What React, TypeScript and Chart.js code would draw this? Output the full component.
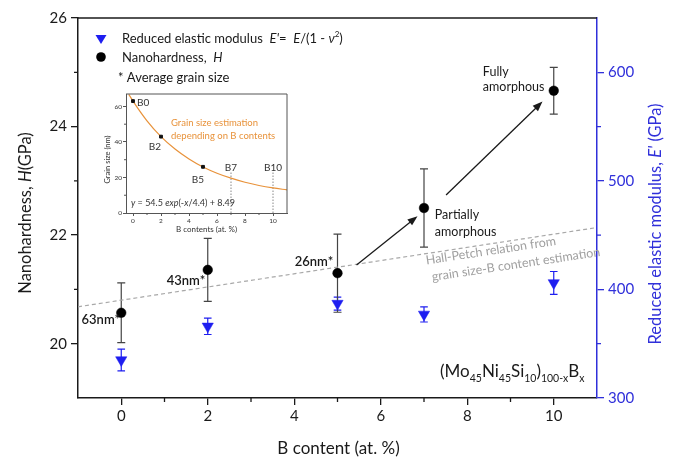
import React, { useEffect, useRef } from 'react';
import { Chart, registerables } from 'chart.js';

Chart.register(...registerables);

// ---------- data ----------
const bContent = [0, 2, 5, 7, 10];
const hardness = [20.57, 21.36, 21.3, 22.5, 24.66];
const hardnessErr = [0.55, 0.58, 0.72, 0.72, 0.43];
const modulus = [335, 366, 387, 377, 406];
const modulusErr = [10, 7.5, 6, 7, 10.5];
const grainLabels = ['63nm*', '43nm*', '26nm*'];
const hallPetchX = [-1, 11];
const hallPetchY = [20.68, 22.14];
const arrowStart = [[5.44, 21.45], [7.51, 22.74]];
const arrowEnd = [[6.85, 22.35], [9.74, 24.46]];

const xTicks = [0, 2, 4, 6, 8, 10];
const xMinor = [1, 3, 5, 7, 9];
const hTicks = [20, 22, 24, 26];
const hMinor = [21, 23, 25];
const eTicks = [300, 400, 500, 600];
const eMinor = [350, 450, 550];

// inset: grain size vs B content
const insetX = [-0.3, 0, 1, 2, 3, 4, 5, 6, 7, 8, 9, 10, 11];
const insetGrain = [66.8, 63.0, 51.9, 43.0, 36.0, 30.4, 25.9, 22.4, 19.6, 17.3, 15.5, 14.1, 13.0];
const insetPointX = [0, 2, 5];
const insetPointY = [63, 43, 26];
const insetPointLabels = ['B0', 'B2', 'B5'];
const insetMarkX = [7, 10];
const insetMarkTop = [23, 23];
const insetMarkLabels = ['B7', 'B10'];
const insetXTicks = [0, 2, 4, 6, 8, 10];
const insetXMinor = [1, 3, 5, 7, 9];
const insetYTicks = [0, 20, 40, 60];
const insetYMinor = [10, 30, 50];

// ---------- style ----------
const FONT = 'Lato, "Open Sans", "DejaVu Sans", sans-serif';
const BLUE = '#1e1ef0';
const BLUE_AX = '#3030da';
const INK = '#1a1a1a';
const ORANGE = '#e8923a';

type Seg = { t: string; i?: boolean; s?: number; dy?: number };

function drawRich(
  ctx: CanvasRenderingContext2D,
  segs: Seg[],
  x: number,
  baseline: number,
  size: number,
  weight: string | number,
  color: string,
  align: 'left' | 'center' | 'right'
) {
  ctx.save();
  ctx.fillStyle = color;
  ctx.textBaseline = 'alphabetic';
  ctx.textAlign = 'left';
  const fontFor = (sg: Seg) => `${sg.i ? 'italic ' : ''}${weight} ${sg.s ?? size}px ${FONT}`;
  let total = 0;
  const ws = segs.map((sg) => {
    ctx.font = fontFor(sg);
    const w = ctx.measureText(sg.t).width;
    total += w;
    return w;
  });
  let cx = align === 'center' ? x - total / 2 : align === 'right' ? x - total : x;
  segs.forEach((sg, k) => {
    ctx.font = fontFor(sg);
    ctx.fillText(sg.t, cx, baseline + (sg.dy ?? 0));
    cx += ws[k];
  });
  ctx.restore();
}

function drawErr(ctx: CanvasRenderingContext2D, px: number, y1: number, y2: number, color: string, cap: number) {
  ctx.save();
  ctx.strokeStyle = color;
  ctx.lineWidth = 1.2;
  ctx.beginPath();
  ctx.moveTo(px, y1);
  ctx.lineTo(px, y2);
  ctx.moveTo(px - cap, y1);
  ctx.lineTo(px + cap, y1);
  ctx.moveTo(px - cap, y2);
  ctx.lineTo(px + cap, y2);
  ctx.stroke();
  ctx.restore();
}

function drawArrow(ctx: CanvasRenderingContext2D, x1: number, y1: number, x2: number, y2: number) {
  const a = Math.atan2(y2 - y1, x2 - x1);
  const L = 10;
  const W = 3.8;
  ctx.save();
  ctx.strokeStyle = INK;
  ctx.fillStyle = INK;
  ctx.lineWidth = 1.3;
  ctx.beginPath();
  ctx.moveTo(x1, y1);
  ctx.lineTo(x2 - L * 0.8 * Math.cos(a), y2 - L * 0.8 * Math.sin(a));
  ctx.stroke();
  ctx.beginPath();
  ctx.moveTo(x2, y2);
  ctx.lineTo(x2 - L * Math.cos(a) + W * Math.sin(a), y2 - L * Math.sin(a) - W * Math.cos(a));
  ctx.lineTo(x2 - L * Math.cos(a) - W * Math.sin(a), y2 - L * Math.sin(a) + W * Math.cos(a));
  ctx.closePath();
  ctx.fill();
  ctx.restore();
}

const mainPlugin = {
  id: 'mainDecor',
  beforeDatasetsDraw(chart: any) {
    const { ctx, scales } = chart;
    const { x, y, y2 } = scales;
    bContent.forEach((b, k) => {
      const px = x.getPixelForValue(b);
      drawErr(ctx, px, y2.getPixelForValue(modulus[k] + modulusErr[k]), y2.getPixelForValue(modulus[k] - modulusErr[k]), BLUE, 3.8);
      drawErr(ctx, px, y.getPixelForValue(hardness[k] + hardnessErr[k]), y.getPixelForValue(hardness[k] - hardnessErr[k]), '#444', 4);
    });
  },
  afterDraw(chart: any) {
    const { ctx, chartArea, scales } = chart;
    const { x, y, y2 } = scales;
    const { left, right, top, bottom } = chartArea;
    ctx.save();
    // top frame
    ctx.strokeStyle = INK;
    ctx.lineWidth = 1.5;
    ctx.beginPath();
    ctx.moveTo(left, top);
    ctx.lineTo(right, top);
    ctx.stroke();
    // minor ticks
    ctx.lineWidth = 1.3;
    ctx.beginPath();
    xMinor.forEach((v) => {
      const p = x.getPixelForValue(v);
      ctx.moveTo(p, bottom);
      ctx.lineTo(p, bottom + 4);
    });
    hMinor.forEach((v) => {
      const p = y.getPixelForValue(v);
      ctx.moveTo(left - 4, p);
      ctx.lineTo(left, p);
    });
    ctx.stroke();
    ctx.strokeStyle = BLUE_AX;
    ctx.beginPath();
    eMinor.forEach((v) => {
      const p = y2.getPixelForValue(v);
      ctx.moveTo(right, p);
      ctx.lineTo(right + 4, p);
    });
    ctx.stroke();
    ctx.restore();

    // axis titles
    const tSize = 16.5;
    ctx.save();
    ctx.translate(25, 213);
    ctx.rotate(-Math.PI / 2);
    drawRich(ctx, [{ t: 'Nanohardness, ' }, { t: 'H', i: true }, { t: '(GPa)' }], 0, tSize * 0.35, tSize, 'normal', INK, 'center');
    ctx.restore();
    ctx.save();
    ctx.translate(655, 224);
    ctx.rotate(-Math.PI / 2);
    drawRich(ctx, [{ t: 'Reduced elastic modulus, ' }, { t: "E'", i: true }, { t: ' (GPa)' }], 0, tSize * 0.35, tSize, 'normal', BLUE_AX, 'center');
    ctx.restore();
    drawRich(ctx, [{ t: 'B content (at. %)' }], (left + right) / 2 + 1, 448 + 17 * 0.35, 17, 'normal', INK, 'center');

    // legend
    ctx.save();
    ctx.fillStyle = BLUE;
    ctx.beginPath();
    ctx.moveTo(101 - 5.5, 35);
    ctx.lineTo(101 + 5.5, 35);
    ctx.lineTo(101, 44);
    ctx.closePath();
    ctx.fill();
    ctx.fillStyle = '#000';
    ctx.beginPath();
    ctx.arc(101, 57, 4.8, 0, Math.PI * 2);
    ctx.fill();
    ctx.restore();
    const lS = 13;
    drawRich(
      ctx,
      [
        { t: 'Reduced elastic modulus  ' },
        { t: "E'", i: true },
        { t: '=  ' },
        { t: 'E', i: true },
        { t: '/(1 - ' },
        { t: 'ν', i: true },
        { t: '2', s: 8, dy: -6 },
        { t: ')' },
      ],
      122,
      38.5 + lS * 0.35,
      lS,
      'normal',
      INK,
      'left'
    );
    drawRich(ctx, [{ t: 'Nanohardness,  ' }, { t: 'H', i: true }], 122, 57 + lS * 0.35, lS, 'normal', INK, 'left');
    drawRich(ctx, [{ t: '* Average grain size' }], 118, 77 + lS * 0.35, lS, 'normal', INK, 'left');

    // grain size labels next to points
    const gS = 13;
    const gl = [
      [-0.03, 20.44],
      [1.94, 21.17],
      [4.9, 21.51],
    ];
    grainLabels.forEach((s, k) => {
      drawRich(ctx, [{ t: s }], x.getPixelForValue(gl[k][0]), y.getPixelForValue(gl[k][1]) + gS * 0.35, gS, 600, INK, 'right');
    });

    // state labels
    const aS = 12.5;
    drawRich(ctx, [{ t: 'Partially' }], x.getPixelForValue(7.25), y.getPixelForValue(22.37) + aS * 0.35, aS, 'normal', INK, 'left');
    drawRich(ctx, [{ t: 'amorphous' }], x.getPixelForValue(7.25), y.getPixelForValue(22.06) + aS * 0.35, aS, 'normal', INK, 'left');
    drawRich(ctx, [{ t: 'Fully' }], x.getPixelForValue(8.36), y.getPixelForValue(25.02) + aS * 0.35, aS, 'normal', INK, 'left');
    drawRich(ctx, [{ t: 'amorphous' }], x.getPixelForValue(8.36), y.getPixelForValue(24.73) + aS * 0.35, aS, 'normal', INK, 'left');

    // arrows
    arrowStart.forEach((s, k) => {
      const e = arrowEnd[k];
      drawArrow(ctx, x.getPixelForValue(s[0]), y.getPixelForValue(s[1]), x.getPixelForValue(e[0]), y.getPixelForValue(e[1]));
    });

    // Hall-Petch text
    const hS = 12.5;
    const ang = (-8.5 * Math.PI) / 180;
    ctx.save();
    ctx.translate(x.getPixelForValue(7.04), y.getPixelForValue(21.54));
    ctx.rotate(ang);
    drawRich(ctx, [{ t: 'Hall-Petch relation from' }], 0, hS * 0.35, hS, 'normal', '#a0a0a0', 'left');
    ctx.restore();
    ctx.save();
    ctx.translate(x.getPixelForValue(7.18), y.getPixelForValue(21.235));
    ctx.rotate(ang);
    drawRich(ctx, [{ t: 'grain size-B content estimation' }], 0, hS * 0.35, hS, 'normal', '#a0a0a0', 'left');
    ctx.restore();

    // composition
    const cS = 17;
    const sub = (t: string): Seg => ({ t, s: 10.5, dy: 5 });
    drawRich(
      ctx,
      [{ t: '(Mo' }, sub('45'), { t: 'Ni' }, sub('45'), { t: 'Si' }, sub('10'), { t: ')' }, sub('100-x'), { t: 'B' }, sub('x')],
      440,
      377,
      cS,
      'normal',
      INK,
      'left'
    );
  },
};

const insetPlugin = {
  id: 'insetDecor',
  afterDraw(chart: any) {
    const { ctx, chartArea, scales } = chart;
    const { x, y } = scales;
    const { left, right, top, bottom } = chartArea;
    ctx.save();
    ctx.strokeStyle = '#555';
    ctx.lineWidth = 1;
    ctx.beginPath();
    ctx.moveTo(left, top);
    ctx.lineTo(right, top);
    ctx.lineTo(right, bottom);
    ctx.stroke();
    ctx.beginPath();
    insetXMinor.forEach((v) => {
      const p = x.getPixelForValue(v);
      ctx.moveTo(p, bottom);
      ctx.lineTo(p, bottom + 2);
    });
    insetYMinor.forEach((v) => {
      const p = y.getPixelForValue(v);
      ctx.moveTo(left - 2, p);
      ctx.lineTo(left, p);
    });
    ctx.stroke();
    ctx.restore();

    const lS = 10;
    const offs = [
      [4, 1, 'left'],
      [-6, 10, 'center'],
      [-5, 13, 'center'],
    ] as const;
    insetPointX.forEach((v, k) => {
      const px = x.getPixelForValue(v);
      const py = y.getPixelForValue(insetPointY[k]);
      drawRich(ctx, [{ t: insetPointLabels[k] }], px + offs[k][0], py + offs[k][1] + lS * 0.35, lS, 'normal', '#333', offs[k][2]);
    });
    insetMarkX.forEach((v, k) => {
      const px = x.getPixelForValue(v);
      const py = y.getPixelForValue(insetMarkTop[k]);
      drawRich(ctx, [{ t: insetMarkLabels[k] }], px, py - 5 + lS * 0.35, lS, 'normal', '#333', 'center');
    });
    const oS = 9.5;
    drawRich(ctx, [{ t: 'Grain size estimation' }], left + 45, 35 + oS * 0.35, oS, 'normal', ORANGE, 'left');
    drawRich(ctx, [{ t: 'depending on B contents' }], left + 45, 47.5 + oS * 0.35, oS, 'normal', ORANGE, 'left');
    const fS = 9;
    drawRich(
      ctx,
      [{ t: 'y', i: true }, { t: ' = 54.5 ' }, { t: 'exp', i: true }, { t: '(-' }, { t: 'x', i: true }, { t: '/4.4) + 8.49' }],
      left + 5,
      bottom - 10 + fS * 0.35,
      fS,
      'normal',
      '#333',
      'left'
    );
    // axis titles
    ctx.save();
    ctx.translate(11, (top + bottom) / 2 + 6);
    ctx.rotate(-Math.PI / 2);
    drawRich(ctx, [{ t: 'Grain size (nm)' }], 0, 7.5 * 0.35, 7.5, 'normal', '#333', 'center');
    ctx.restore();
    drawRich(ctx, [{ t: 'B contents (at. %)' }], (left + right) / 2 - 0, 141 + 8 * 0.35, 8, 'normal', '#333', 'center');
  },
};

export default function App() {
  const mainRef = useRef<HTMLCanvasElement>(null);
  const insetRef = useRef<HTMLCanvasElement>(null);

  useEffect(() => {
    const tickFont = { family: FONT, size: 15 };
    const main = new Chart(mainRef.current as HTMLCanvasElement, {
      type: 'scatter',
      data: {
        datasets: [
          {
            label: 'Nanohardness, H',
            data: bContent.map((b, i) => ({ x: b, y: hardness[i] })),
            yAxisID: 'y',
            pointStyle: 'circle',
            pointRadius: 4.8,
            pointBackgroundColor: '#000',
            pointBorderColor: '#000',
            pointBorderWidth: 0.5,
          },
          {
            label: "Reduced elastic modulus E'",
            data: bContent.map((b, i) => ({ x: b, y: modulus[i] })),
            yAxisID: 'y2',
            pointStyle: 'triangle',
            pointRotation: 180,
            pointRadius: 6.5,
            pointBackgroundColor: BLUE,
            pointBorderColor: BLUE,
            pointBorderWidth: 0.5,
          },
          {
            label: 'Hall-Petch',
            type: 'line',
            data: hallPetchX.map((v, i) => ({ x: v, y: hallPetchY[i] })),
            yAxisID: 'y',
            borderColor: '#a8a8a8',
            borderWidth: 1.2,
            borderDash: [4, 3],
            pointRadius: 0,
            fill: false,
          } as any,
        ],
      },
      options: {
        responsive: false,
        animation: false,
        devicePixelRatio: 1,
        layout: { padding: { top: 18, left: 0, right: 0, bottom: 0 } },
        plugins: { legend: { display: false }, tooltip: { enabled: false } },
        scales: {
          x: {
            type: 'linear',
            min: -1,
            max: 11,
            afterBuildTicks: (s: any) => {
              s.ticks = xTicks.map((v) => ({ value: v }));
            },
            afterFit: (s: any) => {
              s.height = 64;
            },
            ticks: { font: tickFont, color: INK, padding: 2, maxRotation: 0 },
            grid: { drawOnChartArea: false, tickLength: 7, color: INK, lineWidth: 1.3 },
            border: { color: INK, width: 1.5 },
          },
          y: {
            type: 'linear',
            position: 'left',
            min: 19,
            max: 26,
            afterBuildTicks: (s: any) => {
              s.ticks = hTicks.map((v) => ({ value: v }));
            },
            afterFit: (s: any) => {
              s.width = 78;
            },
            ticks: { font: tickFont, color: INK, padding: 4 },
            grid: { drawOnChartArea: false, tickLength: 7, color: INK, lineWidth: 1.3 },
            border: { color: INK, width: 1.5 },
          },
          y2: {
            type: 'linear',
            position: 'right',
            min: 300,
            max: 650,
            afterBuildTicks: (s: any) => {
              s.ticks = eTicks.map((v) => ({ value: v }));
            },
            afterFit: (s: any) => {
              s.width = 78;
            },
            ticks: { font: tickFont, color: BLUE_AX, padding: 4 },
            grid: { drawOnChartArea: false, tickLength: 7, color: BLUE_AX, lineWidth: 1.3 },
            border: { color: BLUE_AX, width: 1.5 },
          },
        },
      } as any,
      plugins: [mainPlugin],
    });

    const smallFont = { family: FONT, size: 6.5 };
    const inset = new Chart(insetRef.current as HTMLCanvasElement, {
      type: 'scatter',
      data: {
        datasets: [
          {
            label: 'B samples',
            data: insetPointX.map((v, i) => ({ x: v, y: insetPointY[i] })),
            pointStyle: 'rect',
            pointRadius: 2,
            pointBackgroundColor: '#111',
            pointBorderColor: '#111',
          },
          {
            label: 'fit',
            type: 'line',
            data: insetX.map((v, i) => ({ x: v, y: insetGrain[i] })),
            borderColor: ORANGE,
            borderWidth: 1.2,
            pointRadius: 0,
            cubicInterpolationMode: 'monotone',
            fill: false,
          } as any,
          ...insetMarkX.map(
            (v, k) =>
              ({
                label: insetMarkLabels[k],
                type: 'line',
                data: [
                  { x: v, y: 0 },
                  { x: v, y: insetMarkTop[k] },
                ],
                borderColor: '#888',
                borderWidth: 1,
                borderDash: [1.5, 1.5],
                pointRadius: 0,
                fill: false,
              }) as any
          ),
        ],
      },
      options: {
        responsive: false,
        animation: false,
        devicePixelRatio: 1,
        layout: { padding: { top: 6, left: 0, right: 9, bottom: 0 } },
        plugins: { legend: { display: false }, tooltip: { enabled: false } },
        scales: {
          x: {
            type: 'linear',
            min: -0.5,
            max: 11,
            afterBuildTicks: (s: any) => {
              s.ticks = insetXTicks.map((v) => ({ value: v }));
            },
            afterFit: (s: any) => {
              s.height = 27;
            },
            ticks: { font: smallFont, color: '#333', padding: 1, maxRotation: 0 },
            grid: { drawOnChartArea: false, tickLength: 3, color: '#555', lineWidth: 1 },
            border: { color: '#555', width: 1 },
          },
          y: {
            type: 'linear',
            min: 0,
            max: 67,
            afterBuildTicks: (s: any) => {
              s.ticks = insetYTicks.map((v) => ({ value: v }));
            },
            afterFit: (s: any) => {
              s.width = 30;
            },
            ticks: { font: smallFont, color: '#333', padding: 1 },
            grid: { drawOnChartArea: false, tickLength: 3, color: '#555', lineWidth: 1 },
            border: { color: '#555', width: 1 },
          },
        },
      } as any,
      plugins: [insetPlugin],
    });

    return () => {
      main.destroy();
      inset.destroy();
    };
  }, []);

  return (
    <div style={{ position: 'absolute', left: 0, top: 0, width: 675, height: 462, background: '#fff' }}>
      <canvas ref={mainRef} width={675} height={462} style={{ position: 'absolute', left: 0, top: 0, display: 'block' }} />
      <canvas ref={insetRef} width={200} height={152} style={{ position: 'absolute', left: 96, top: 88, display: 'block' }} />
    </div>
  );
}
